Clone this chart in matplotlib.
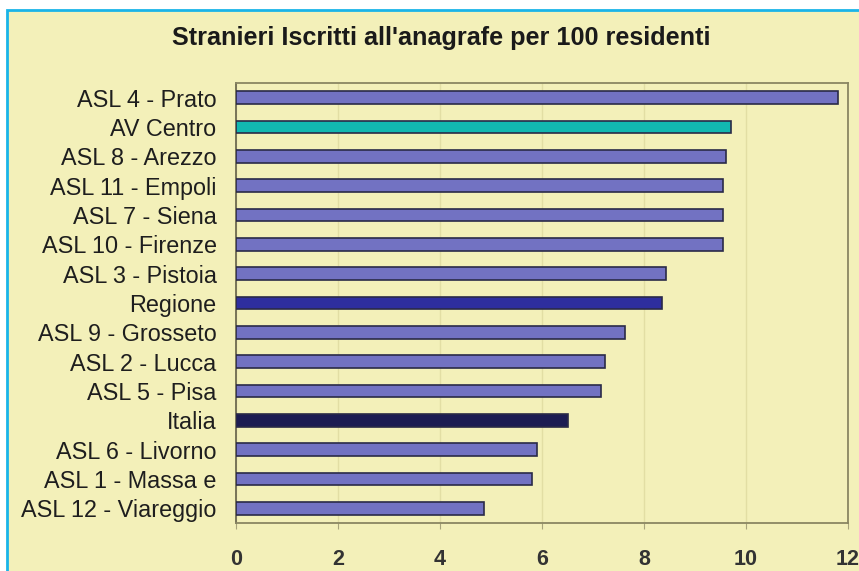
import matplotlib.pyplot as plt
from matplotlib.patches import Rectangle

# Stranieri iscritti all'anagrafe ogni 100 residenti
zone = ['ASL 4 - Prato', 'AV Centro', 'ASL 8 - Arezzo', 'ASL 11 - Empoli',
        'ASL 7 - Siena', 'ASL 10 - Firenze', 'ASL 3 - Pistoia', 'Regione',
        'ASL 9 - Grosseto', 'ASL 2 - Lucca', 'ASL 5 - Pisa', 'Italia',
        'ASL 6 - Livorno', 'ASL 1 - Massa e', 'ASL 12 - Viareggio']
valori = [11.8, 9.7, 9.6, 9.55, 9.55, 9.55, 8.43, 8.35,
          7.63, 7.24, 7.16, 6.51, 5.9, 5.8, 4.86]
colori = ['#7272c2', '#12b8b0', '#7272c2', '#7272c2', '#7272c2', '#7272c2',
          '#7272c2', '#2e2e9e', '#7272c2', '#7272c2', '#7272c2', '#1c1c52',
          '#7272c2', '#7272c2', '#7272c2']
xticks = [0, 2, 4, 6, 8, 10, 12]

bg = '#f3f0b9'
plt.rcParams['font.family'] = ['Liberation Sans', 'DejaVu Sans']

fig = plt.figure(figsize=(8.59, 5.71), dpi=100)
fig.patch.set_facecolor('white')
# pannello giallo con bordo azzurro in alto e a sinistra
fig.patches.append(Rectangle((7 / 859, -0.1), 1.2, 1 + 0.1 - 10 / 571,
                             transform=fig.transFigure, facecolor=bg,
                             edgecolor='#1ab4e8', linewidth=2, zorder=-10))

ax = fig.add_axes([236 / 859, 1 - 523 / 571, 612 / 859, 440 / 571])
ax.set_facecolor(bg)

y = list(range(len(zone)))
ax.barh(y, valori, height=0.44, color=colori, edgecolor='#2a2a48',
        linewidth=1.2, zorder=3)
ax.set_ylim(len(zone) - 0.5, -0.5)
ax.set_xlim(0, 12)
ax.set_yticks(y)
ax.set_yticklabels(zone, fontsize=16.8)
ax.set_xticks(xticks)
ax.set_xticklabels([str(t) for t in xticks], fontsize=15.5, fontweight='bold',
                   color='#333333')
ax.tick_params(axis='y', length=0, pad=14, colors='#1e1e1e')
ax.tick_params(axis='x', length=4, pad=15, color='#a8a47a')
ax.grid(axis='x', color='#e2dea4', linewidth=1, zorder=0)

for side in ['top', 'right', 'bottom']:
    ax.spines[side].set_color('#8a8662')
    ax.spines[side].set_linewidth(1.3)
ax.spines['left'].set_color('#6e6a50')
ax.spines['left'].set_linewidth(1.3)

fig.text(441 / 859, 1 - 38 / 571, "Stranieri Iscritti all'anagrafe per 100 residenti",
         ha='center', va='center', fontsize=18.2, fontweight='bold', color='#1a1a1a')

fig.savefig('out.png', dpi=100, facecolor=fig.get_facecolor())
